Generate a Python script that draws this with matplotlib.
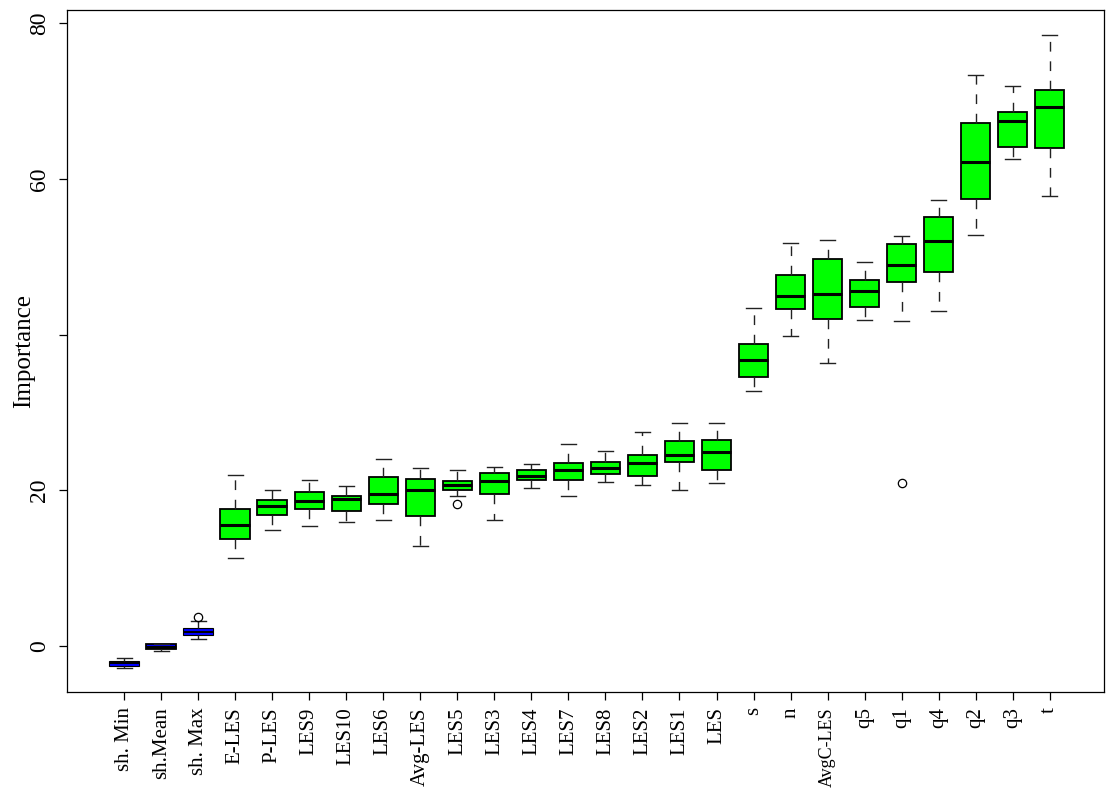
import numpy as np
import matplotlib.pyplot as plt

plt.rcParams['font.family'] = ['Liberation Serif', 'DejaVu Serif']

# Attribute importance per feature (shadow attributes first)
names = ['sh. Min', 'sh.Mean', 'sh. Max', 'E-LES', 'P-LES', 'LES9', 'LES10', 'LES6',
         'Avg-LES', 'LES5', 'LES3', 'LES4', 'LES7', 'LES8', 'LES2', 'LES1', 'LES',
         's', 'n', 'AvgC-LES', 'q5', 'q1', 'q4', 'q2', 'q3', 't']
whislo = [-2.8, -0.6, 0.94, 11.3, 14.9, 15.4, 15.9, 16.2, 12.8, 19.3, 16.2, 20.3, 19.3,
          21.1, 20.7, 20.1, 20.9, 32.7, 39.8, 36.4, 41.9, 41.8, 43.1, 52.8, 62.5, 57.8]
q1 = [-2.6, -0.4, 1.45, 13.7, 16.8, 17.6, 17.3, 18.2, 16.7, 20.0, 19.5, 21.3, 21.3,
      22.1, 21.8, 23.7, 22.6, 34.6, 43.3, 42.0, 43.6, 46.7, 48.0, 57.4, 64.1, 64.0]
med = [-2.2, -0.1, 1.8, 15.6, 18.0, 18.6, 18.9, 19.5, 20.0, 20.7, 21.2, 21.8, 22.6,
       22.9, 23.5, 24.5, 24.9, 36.7, 45.0, 45.2, 45.6, 49.0, 52.0, 62.2, 67.5, 69.3]
q3 = [-1.9, 0.2, 2.3, 17.6, 18.8, 19.8, 19.3, 21.7, 21.5, 21.2, 22.2, 22.6, 23.5,
      23.7, 24.5, 26.4, 26.5, 38.8, 47.7, 49.7, 47.0, 51.6, 55.1, 67.2, 68.6, 71.4]
whishi = [-1.6, 0.3, 3.2, 22.0, 20.0, 21.3, 20.6, 24.0, 22.9, 22.6, 23.0, 23.4, 26.0,
          25.1, 27.5, 28.6, 28.6, 43.4, 51.8, 52.1, 49.3, 52.7, 57.3, 73.4, 72.0, 78.5]
outliers = {'sh. Max': [3.77], 'LES5': [18.2], 'q1': [20.9]}
n_shadow = 3

stats = []
for i, nm in enumerate(names):
    stats.append(dict(label=nm, whislo=whislo[i], q1=q1[i], med=med[i],
                      q3=q3[i], whishi=whishi[i], fliers=outliers.get(nm, [])))

fig = plt.figure(figsize=(11.16, 7.96), dpi=100)
ax = fig.add_axes([0.060, 0.1307, 0.929, 0.8567])

pos = np.arange(1, len(names) + 1)
bp = ax.bxp(stats, positions=pos, widths=0.8, patch_artist=True,
            boxprops=dict(edgecolor='black', linewidth=1.3),
            medianprops=dict(color='black', linewidth=2.2, solid_capstyle='butt'),
            whiskerprops=dict(color='#222222', linewidth=1.0, linestyle=(0, (7, 7))),
            capprops=dict(color='#222222', linewidth=1.0),
            capwidths=0.4,
            flierprops=dict(marker='o', markerfacecolor='none', markeredgecolor='black',
                            markersize=6, markeredgewidth=0.9))
for i, b in enumerate(bp['boxes']):
    if i < n_shadow:
        b.set_facecolor('#0000ff')
        # min and max shadows: thinner outlines so the blue fill shows
        if names[i] != 'sh.Mean':
            b.set_linewidth(0.8)
            bp['medians'][i].set_linewidth(1.4)
    else:
        b.set_facecolor('#00ff00')

ax.set_xlim(-0.547, 27.46)
ax.set_ylim(-5.9, 81.7)

ax.set_xticks(pos)
ax.set_xticklabels(names, rotation=90, fontsize=15, va='top', ha='center')
for t in ax.get_xticklabels():
    if t.get_text() == 'AvgC-LES':
        t.set_fontsize(13)
ax.set_yticks([0, 20, 40, 60, 80])
ax.set_yticklabels(['0', '20', '', '60', '80'], rotation=90, va='center', fontsize=17)
ax.tick_params(axis='both', direction='out', length=6, width=0.9, color='black')
ax.tick_params(axis='x', pad=5)
ax.tick_params(axis='y', pad=6)
ax.set_ylabel('Importance', fontsize=18)
ax.yaxis.set_label_coords(-0.031, 0.5)

for s in ax.spines.values():
    s.set_linewidth(0.9)

fig.savefig('out.png', dpi=100)
